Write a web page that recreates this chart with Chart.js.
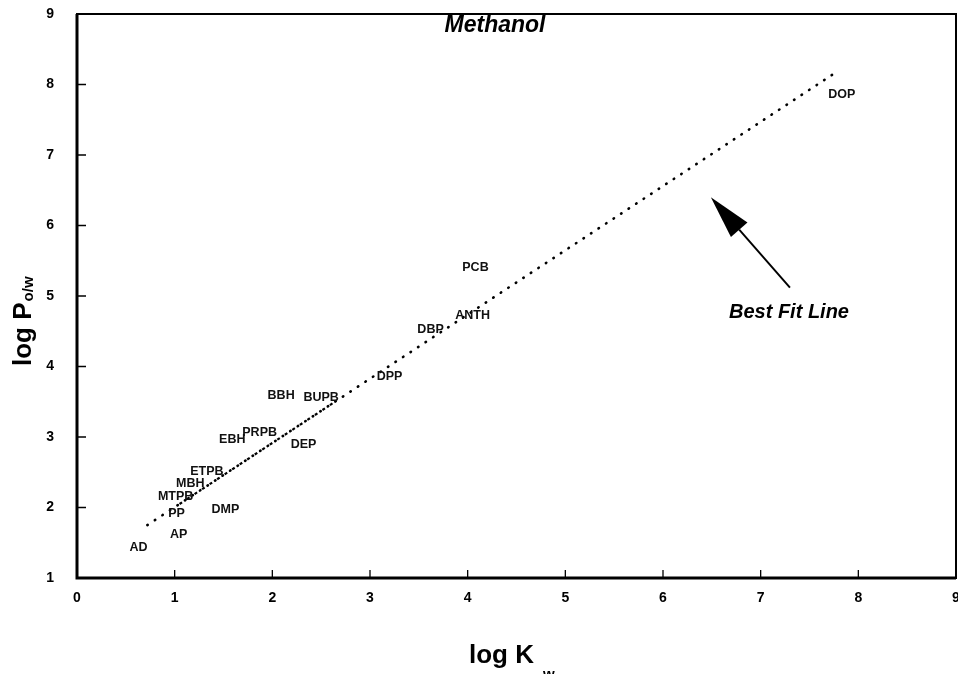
<!DOCTYPE html>
<html>
<head>
<meta charset="utf-8">
<script src="https://cdn.jsdelivr.net/npm/chart.js@4.4.1/dist/chart.umd.min.js"></script>
<style>
  html, body { margin: 0; padding: 0; background: #fff; }
  canvas { display: block; }
</style>
</head>
<body>
<canvas id="c" width="958" height="674"></canvas>
<script>
// Compounds: octanol/water partition (log P) against retention factor in methanol (log Kw)
const compounds = ['AD', 'AP', 'PP', 'MTPB', 'MBH', 'ETPB', 'DMP', 'EBH', 'PRPB', 'DEP',
                   'BBH', 'BUPB', 'DPP', 'DBP', 'ANTH', 'PCB', 'DOP'];
const logKw = [0.63, 1.04, 1.02, 1.01, 1.16, 1.33, 1.52, 1.59, 1.87, 2.32,
               2.09, 2.50, 3.20, 3.62, 4.05, 4.08, 7.83];
const logPow = [1.43, 1.62, 1.91, 2.15, 2.34, 2.51, 1.97, 2.97, 3.06, 2.89,
                3.59, 3.56, 3.86, 4.52, 4.72, 5.40, 7.86];

// Best fit line end points
const fitX = [0.72, 7.79];
const fitY = [1.75, 8.19];
// Stretch of the fit line that is printed with short dashes
const denseX = [1.05, 2.62];
const denseY = [2.05, 3.48];

// Pointer arrow (tail, tip) and its caption, in data units
const arrowTail = [7.30, 5.12];
const arrowTip = [6.49, 6.40];
const captionAt = [7.29, 4.76];
const titleAt = [4.28, 8.84];

const xTicks = [0, 1, 2, 3, 4, 5, 6, 7, 8, 9];
const yTicks = [1, 2, 3, 4, 5, 6, 7, 8, 9];

const FONT = '"Liberation Sans", Arial, Helvetica, sans-serif';

const labelData = logKw.map((x, i) => ({ x: x, y: logPow[i], name: compounds[i] }));
const fitData = fitX.map((x, i) => ({ x: x, y: fitY[i] }));
const denseData = denseX.map((x, i) => ({ x: x, y: denseY[i] }));

const decorations = {
  id: 'decorations',
  afterDatasetsDraw(chart) {
    const ctx = chart.ctx;
    const xs = chart.scales.x, ys = chart.scales.y;
    const a = chart.chartArea;
    ctx.save();

    // compound names at their points
    const meta = chart.getDatasetMeta(2);
    ctx.fillStyle = '#111';
    ctx.font = 'bold 12.5px ' + FONT;
    ctx.textAlign = 'center';
    ctx.textBaseline = 'middle';
    meta.data.forEach((el, i) => {
      ctx.fillText(labelData[i].name, el.x, el.y);
    });

    // frame
    ctx.strokeStyle = '#000';
    ctx.lineWidth = 2;
    ctx.strokeRect(a.left, a.top, a.right - a.left, a.bottom - a.top);
    ctx.lineWidth = 3;
    ctx.beginPath();
    ctx.moveTo(a.left, a.top);
    ctx.lineTo(a.left, a.bottom);
    ctx.lineTo(a.right, a.bottom);
    ctx.stroke();

    // inward tick marks
    ctx.lineWidth = 1.3;
    ctx.beginPath();
    xTicks.slice(1, -1).forEach(v => {
      const px = xs.getPixelForValue(v);
      ctx.moveTo(px, a.bottom);
      ctx.lineTo(px, a.bottom - 8);
    });
    yTicks.slice(1, -1).forEach(v => {
      const py = ys.getPixelForValue(v);
      ctx.moveTo(a.left, py);
      ctx.lineTo(a.left + 9, py);
    });
    ctx.stroke();

    // title inside the plot
    ctx.fillStyle = '#000';
    ctx.font = 'italic bold 23px ' + FONT;
    ctx.textAlign = 'center';
    ctx.textBaseline = 'middle';
    ctx.fillText('Methanol', xs.getPixelForValue(titleAt[0]), ys.getPixelForValue(titleAt[1]));

    // arrow pointing at the fit line
    const tx = xs.getPixelForValue(arrowTail[0]), ty = ys.getPixelForValue(arrowTail[1]);
    const hx = xs.getPixelForValue(arrowTip[0]), hy = ys.getPixelForValue(arrowTip[1]);
    const ang = Math.atan2(hy - ty, hx - tx);
    const headLen = 43, headHalf = 11;
    const bx = hx - headLen * Math.cos(ang), by = hy - headLen * Math.sin(ang);
    ctx.lineWidth = 2;
    ctx.beginPath();
    ctx.moveTo(tx, ty);
    ctx.lineTo(bx, by);
    ctx.stroke();
    ctx.beginPath();
    ctx.moveTo(hx, hy);
    ctx.lineTo(bx + headHalf * Math.sin(ang), by - headHalf * Math.cos(ang));
    ctx.lineTo(bx - headHalf * Math.sin(ang), by + headHalf * Math.cos(ang));
    ctx.closePath();
    ctx.fill();

    ctx.font = 'italic bold 20px ' + FONT;
    ctx.fillText('Best Fit Line', xs.getPixelForValue(captionAt[0]), ys.getPixelForValue(captionAt[1]));

    // axis titles with subscripts
    ctx.font = 'bold 26px ' + FONT;
    ctx.textAlign = 'left';
    ctx.textBaseline = 'alphabetic';
    const xt = 'log K';
    const xw = ctx.measureText(xt).width;
    const xStart = 469;
    ctx.fillText(xt, xStart, 663);
    ctx.font = 'bold 15px ' + FONT;
    ctx.fillText('w', xStart + xw + 9, 679);

    ctx.save();
    ctx.translate(31, 366);
    ctx.rotate(-Math.PI / 2);
    ctx.font = 'bold 26px ' + FONT;
    ctx.fillText('log P', 0, 0);
    const yw = ctx.measureText('log P').width;
    ctx.font = 'bold 15px ' + FONT;
    ctx.fillText('o/w', yw + 1, 2);
    ctx.restore();

    ctx.restore();
  }
};

new Chart(document.getElementById('c'), {
  type: 'scatter',
  data: {
    datasets: [
      {
        label: 'Best fit',
        data: fitData,
        showLine: true,
        borderColor: '#000',
        borderWidth: 2.6,
        borderDash: [0.5, 8.5],
        borderCapStyle: 'round',
        pointRadius: 0,
        fill: false
      },
      {
        label: 'Best fit (dashed stretch)',
        data: denseData,
        showLine: true,
        borderColor: '#000',
        borderWidth: 2.2,
        borderDash: [3, 6],
        borderCapStyle: 'butt',
        pointRadius: 0,
        fill: false
      },
      {
        label: 'Compounds',
        data: labelData,
        pointRadius: 0,
        showLine: false
      }
    ]
  },
  plugins: [decorations],
  options: {
    responsive: false,
    animation: false,
    events: [],
    layout: { padding: { top: 14, right: 2, left: 0, bottom: 0 } },
    plugins: { legend: { display: false }, tooltip: { enabled: false } },
    scales: {
      x: {
        type: 'linear',
        min: 0, max: 9,
        afterBuildTicks: s => { s.ticks = xTicks.map(v => ({ value: v })); },
        afterFit: s => { s.height = 96; s.paddingLeft = 0; s.paddingRight = 0; },
        ticks: { color: '#000', font: { family: FONT, size: 14, weight: 'bold' }, padding: 12, maxRotation: 0 },
        grid: { drawOnChartArea: false, drawTicks: false },
        border: { display: false }
      },
      y: {
        type: 'linear',
        min: 1, max: 9,
        afterBuildTicks: s => { s.ticks = yTicks.map(v => ({ value: v })); },
        afterFit: s => { s.width = 77; s.paddingTop = 0; s.paddingBottom = 0; },
        ticks: { color: '#000', font: { family: FONT, size: 14, weight: 'bold' }, padding: 23 },
        grid: { drawOnChartArea: false, drawTicks: false },
        border: { display: false }
      }
    }
  }
});
</script>
</body>
</html>
